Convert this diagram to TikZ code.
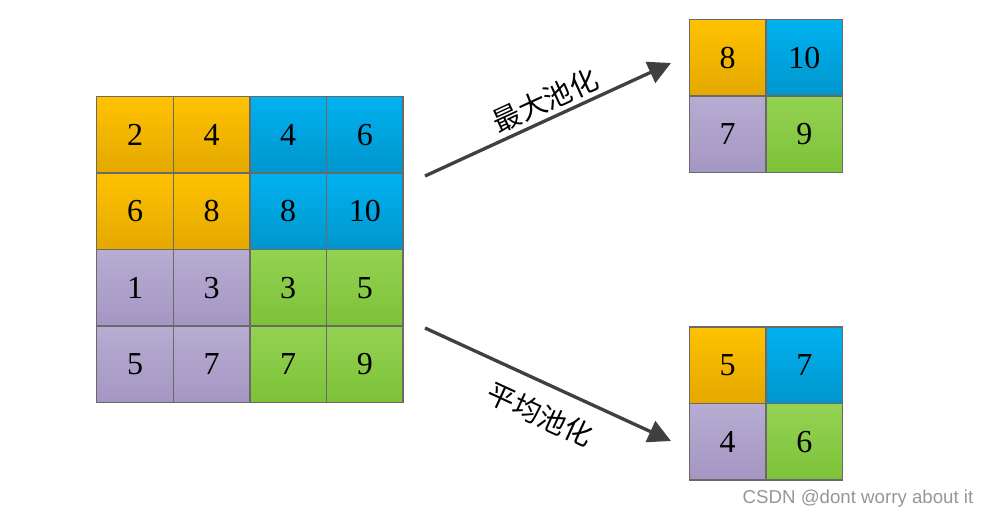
\documentclass[tikz,border=0pt]{standalone}
\usepackage{fontspec}
\setmainfont{Liberation Serif}
\newfontfamily\cjk{Noto Sans CJK SC}
\newfontfamily\wmfont{Liberation Sans}
\usepackage{tikz}
\usetikzlibrary{positioning, arrows.meta, calc}
\definecolor{orgtop}{RGB}{255,194,0}
\definecolor{orgbot}{RGB}{228,168,0}
\definecolor{blutop}{RGB}{0,178,240}
\definecolor{blubot}{RGB}{0,150,205}
\definecolor{purtop}{RGB}{183,172,210}
\definecolor{purbot}{RGB}{164,150,194}
\definecolor{grntop}{RGB}{148,210,82}
\definecolor{grnbot}{RGB}{124,194,56}
\definecolor{gridline}{RGB}{105,105,105}
\definecolor{arrowink}{RGB}{64,64,64}

\begin{document}
\begin{tikzpicture}[x=0.75pt, y=-0.75pt,
    cell/.style={draw=gridline, line width=1.1pt, minimum size=57.45pt, inner sep=0pt,
                 font=\fontsize{24}{24}\selectfont},
    orng/.style={top color=orgtop, bottom color=orgbot},
    blu/.style={top color=blutop, bottom color=blubot},
    pur/.style={top color=purtop, bottom color=purbot},
    grn/.style={top color=grntop, bottom color=grnbot},
    pool/.style={-{Triangle[length=17pt, width=17pt]}, draw=arrowink, fill=arrowink, line width=2.5pt},
    lab/.style={font=\cjk\fontsize{21}{21}\selectfont, sloped, inner sep=2pt, pos=0.52}
  ]
  \useasboundingbox (0,0) rectangle (993,519);

  % --- input feature map ---
  \foreach \r/\c/\v/\s in {1/1/2/orng, 1/2/4/orng, 1/3/4/blu, 1/4/6/blu,
                           2/1/6/orng, 2/2/8/orng, 2/3/8/blu, 2/4/10/blu,
                           3/1/1/pur, 3/2/3/pur, 3/3/3/grn, 3/4/5/grn,
                           4/1/5/pur, 4/2/7/pur, 4/3/7/grn, 4/4/9/grn} {
      \node[cell, \s] (in\r\c) at ({96.7+76.6*(\c-0.5)},{96.3+76.6*(\r-0.5)}) {\v};
  }

  % --- max pooling result ---
  \foreach \r/\c/\v/\s in {1/1/8/orng, 1/2/10/blu, 2/1/7/pur, 2/2/9/grn} {
      \node[cell, \s] (mx\r\c) at ({689.3+76.7*(\c-0.5)},{19.3+76.7*(\r-0.5)}) {\v};
  }

  % --- average pooling result ---
  \foreach \r/\c/\v/\s in {1/1/5/orng, 1/2/7/blu, 2/1/4/pur, 2/2/6/grn} {
      \node[cell, \s] (av\r\c) at ({689.3+76.7*(\c-0.5)},{326.8+76.7*(\r-0.5)}) {\v};
  }

  % arrows between maps
  \coordinate (maxfrom) at (425,176);
  \coordinate (maxto) at (671,63);
  \coordinate (avgfrom) at (425,328);
  \coordinate (avgto) at (671,441);
  \draw[pool] (maxfrom) -- node[lab, above=1pt] {最大池化} (maxto);
  \draw[pool] (avgfrom) -- node[lab, below=10pt] {平均池化} (avgto);

  \node[font=\wmfont\fontsize{14}{14}\selectfont, text={rgb,255:red,150;green,150;blue,150},
        anchor=east] (mark) at (978,499) {CSDN @dont worry about it};
\end{tikzpicture}
\end{document}
